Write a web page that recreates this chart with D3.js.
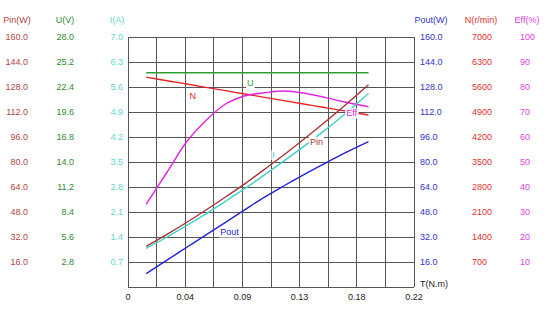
<!DOCTYPE html>
<html><head><meta charset="utf-8">
<script src="https://cdn.jsdelivr.net/npm/d3@7"></script>
<style>body{margin:0;background:#fff}svg text{font-family:"Liberation Sans",Arial,sans-serif;font-size:9px}</style>
</head><body><svg id="c" width="554" height="322"></svg>
<script>
const torque = [0.014,0.03,0.045,0.06,0.075,0.09,0.105,0.12,0.135,0.15,0.165,0.185];
const pin  = [26.0,33.7,41.3,49.3,57.6,66.2,75.3,84.6,94.4,104.5,114.9,129.4];
const volt = [24,24,24,24,24,24,24,24,24,24,24,24];
const amp  = [1.08,1.40,1.72,2.05,2.40,2.76,3.14,3.53,3.93,4.35,4.79,5.42];
const pout = [8.6,17.2,25.3,33.4,41.4,49.5,57.5,64.8,71.8,78.5,85.0,93.0];
const speed= [5875,5776,5683,5590,5497,5404,5311,5218,5125,5032,4939,4815];
const eff  = [33.1,45.9,58.0,66.6,73.2,76.5,77.7,78.4,77.6,76.0,74.2,72.1];
const xTickValues = [0,0.044,0.088,0.132,0.176,0.22];
const xTickLabels = ["0","0.04","0.09","0.13","0.18","0.22"];

const svg = d3.select("#c");
const L=128,R=414,T=37,B=287;
const x = d3.scaleLinear().domain([0,0.22]).range([L,R]);
const axes = [
  {name:"Pin(W)", max:160, fmt:d3.format(".1f"), x:28, anchor:"end", hx:17, color:"#b04646", line:"#a83434", data:pin},
  {name:"U(V)", max:28, fmt:d3.format(".1f"), x:74, anchor:"end", hx:65, color:"#2e8b2e", line:"#2e9e2e", data:volt},
  {name:"I(A)", max:7, fmt:d3.format(".1f"), x:123, anchor:"end", hx:117, color:"#5cd6d0", line:"#40d0cc", data:amp},
  {name:"Pout(W)", max:160, fmt:d3.format(".1f"), x:420, anchor:"start", hx:431, color:"#3232cc", line:"#2222dd", data:pout},
  {name:"N(r/min)", max:7000, fmt:d3.format("d"), x:472, anchor:"start", hx:481, color:"#e03030", line:"#e82424", data:speed},
  {name:"Eff(%)", max:100, fmt:d3.format("d"), x:520, anchor:"start", hx:527, color:"#e040e0", line:"#e424e4", data:eff}
];
axes.forEach(a=>a.y=d3.scaleLinear().domain([0,a.max]).range([B,T]));

// grid
const g = svg.append("g");
g.selectAll("line.v").data(d3.range(11)).join("line")
 .attr("x1",i=>x(i*0.022)).attr("x2",i=>x(i*0.022)).attr("y1",T).attr("y2",B)
 .attr("stroke","#555").attr("stroke-width",1).attr("shape-rendering","crispEdges");
const yf = d3.scaleLinear().domain([0,10]).range([B,T]);
g.selectAll("line.h").data(d3.range(11)).join("line")
 .attr("x1",L).attr("x2",R).attr("y1",i=>yf(i)).attr("y2",i=>yf(i))
 .attr("stroke","#555").attr("stroke-width",1).attr("shape-rendering","crispEdges");

// y labels
axes.forEach(a=>{
  svg.append("text").attr("x",a.hx).attr("y",20).attr("dy","0.35em").attr("text-anchor","middle").attr("fill",a.color).text(a.name);
  svg.selectAll(null).data(d3.range(1,11).map(i=>a.max*i/10)).join("text")
    .attr("x",a.x).attr("y",d=>a.y(d)).attr("dy","0.35em").attr("text-anchor",a.anchor)
    .attr("fill",a.color).text(d=>a.fmt(d));
});
// x labels
svg.selectAll(null).data(xTickValues).join("text")
 .attr("x",d=>x(d)).attr("y",297).attr("dy","0.35em").attr("text-anchor","middle").attr("fill","#222")
 .text((d,i)=>xTickLabels[i]);
svg.append("text").attr("x",420).attr("y",284).attr("dy","0.35em").attr("fill","#222").text("T(N.m)");

// curves
const order=[4,1,5,0,2,3];
order.forEach(k=>{
  const a=axes[k];
  const line=d3.line().x((d,i)=>x(torque[i])).y(d=>a.y(d)).curve(d3.curveCatmullRom.alpha(0.5));
  svg.append("path").attr("d",line(a.data)).attr("fill","none").attr("stroke",a.line).attr("stroke-width",1.4);
});

// curve labels
const labels=[
  {t:"N", tx:0.0498, v:5356, ax:4},
  {t:"U", tx:0.094, v:22.85, ax:1},
  {t:"Eff", tx:0.172, v:69.5, ax:5},
  {t:"Pin", tx:0.145, v:93, ax:0},
  {t:"I", tx:0.112, v:3.7, ax:2},
  {t:"Pout", tx:0.078, v:35, ax:3}
];
labels.forEach(l=>{
  const a=axes[l.ax];
  const px=x(l.tx), py=a.y(l.v);
  const txt=svg.append("text").attr("x",px).attr("y",py).attr("dy","0.35em").attr("text-anchor","middle").attr("fill",a.line).text(l.t);
  const bb=txt.node().getBBox();
  svg.insert("rect","text:last-child").attr("x",bb.x-1).attr("y",bb.y).attr("width",bb.width+2).attr("height",bb.height).attr("fill","#fff");
});
</script></body></html>
